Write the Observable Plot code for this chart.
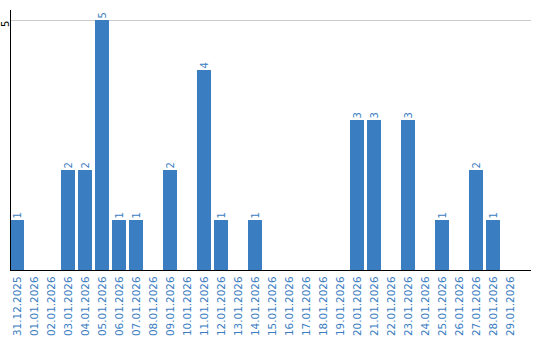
<!DOCTYPE html>
<html><head><meta charset="utf-8">
<script src="https://cdn.jsdelivr.net/npm/d3@7"></script>
<script src="https://cdn.jsdelivr.net/npm/@observablehq/plot@0.6"></script>
<style>body{margin:0;background:#fff}</style>
</head><body><div id="chart"></div>
<script>
const dates = ["31.12.2025","01.01.2026","02.01.2026","03.01.2026","04.01.2026","05.01.2026","06.01.2026","07.01.2026","08.01.2026","09.01.2026","10.01.2026","11.01.2026","12.01.2026","13.01.2026","14.01.2026","15.01.2026","16.01.2026","17.01.2026","18.01.2026","19.01.2026","20.01.2026","21.01.2026","22.01.2026","23.01.2026","24.01.2026","25.01.2026","26.01.2026","27.01.2026","28.01.2026","29.01.2026"];
const counts = [1,0,0,2,2,5,1,1,0,2,0,4,1,0,1,0,0,0,0,0,3,3,0,3,0,1,0,2,1,0];
const yTicks = [5];
const data = dates.map((d,i)=>({date:d, count:counts[i]}));
const nonzero = data.filter(d=>d.count>0);
const blue = "#3b7dc1";
const chart = Plot.plot({
  width: 540, height: 340,
  marginLeft: 10, marginRight: 9, marginTop: 10, marginBottom: 70,
  style: {fontFamily: "DejaVu Sans", fontSize: "10px", background: "#fff"},
  x: {type: "band", domain: dates, range: [10, 517], paddingInner: 0.1765, paddingOuter: 0, round: false, axis: null},
  y: {domain: [0, 5.2], range: [270, 10], axis: null},
  marks: [
    Plot.ruleY(yTicks, {stroke: "#cccccc"}),
    Plot.barY(data, {x: "date", y: "count", fill: blue}),
    Plot.text(nonzero, {x: "date", y: "count", text: d=>String(d.count), rotate: -90, textAnchor: "start", dy: -2, fill: blue, fontSize: 10}),
    Plot.axisX({tickRotate: -90, tickSize: 0, tickPadding: 6, color: blue, fontSize: 10.4, label: null}),
    Plot.text(yTicks, {y: d=>d, frameAnchor: "left", dx: -5, text: d=>String(d), rotate: -90, textAnchor: "end", fill: "black", fontSize: 10}),
    Plot.frame({anchor: "left", stroke: "black"}),
    Plot.ruleY([0], {stroke: "black", strokeWidth: 1.2})
  ]
});
document.getElementById("chart").appendChild(chart);
</script></body></html>
